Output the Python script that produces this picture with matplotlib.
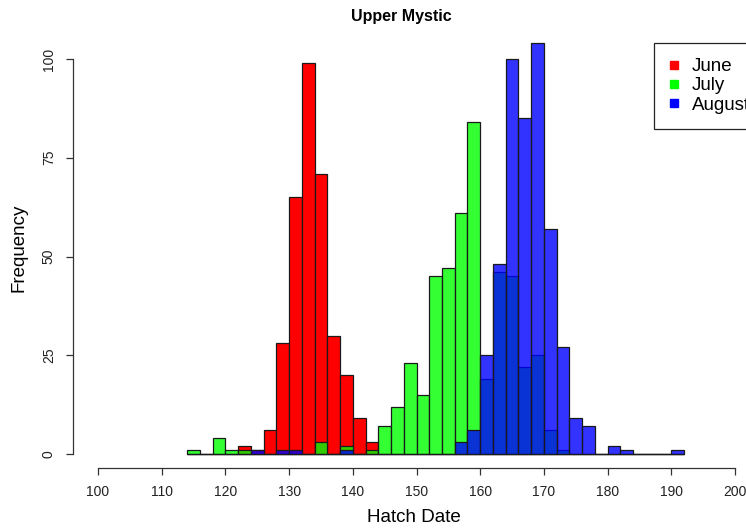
import numpy as np
import matplotlib
matplotlib.use("Agg")
import matplotlib.pyplot as plt
from matplotlib.lines import Line2D

plt.rcParams['font.family'] = ['Liberation Sans', 'DejaVu Sans']

# left edges of the 2-day bins
bins = list(range(114, 192, 2))

june = [0, 0, 0, 0, 2, 1, 6, 28, 65, 99, 71, 30, 20, 9, 3,
        0, 0, 0, 0, 0, 0, 0, 0, 0, 0, 0, 0, 0, 0, 0,
        0, 0, 0, 0, 0, 0, 0, 0, 0]
july = [1, 0, 4, 1, 1, 0, 0, 0, 0, 0, 3, 0, 2, 0, 1,
        7, 12, 23, 15, 45, 47, 61, 84, 19, 46, 45, 22, 25, 6, 1,
        0, 0, 0, 0, 0, 0, 0, 0, 0]
august = [0, 0, 0, 0, 0, 1, 0, 1, 1, 0, 0, 0, 1, 0, 0,
          0, 0, 0, 0, 0, 0, 3, 6, 25, 48, 100, 85, 104, 57, 27,
          9, 7, 0, 2, 1, 0, 0, 0, 1]

labels = ['June', 'July', 'August']
colors = ['#ff0000', (0, 1, 0, 0.8), (0, 0, 1, 0.8)]
legend_colors = ['#ff0000', '#00ff00', '#0000ff']

W, H = 746, 532
fig = plt.figure(figsize=(W / 100, H / 100), dpi=100)

# axes placed in pixel terms: 100->98px, 6.37 px/unit ; y 0->454px, 3.95 px/unit
left_px = 98 - 4 * 6.37
width_px = 108 * 6.37
bottom_px = 468
ytop = 108
top_px = 454 - ytop * 3.95
ax = fig.add_axes([left_px / W, 1 - bottom_px / H, width_px / W, (bottom_px - top_px) / H])

for vals, col in zip([june, july, august], colors):
    ax.bar(bins, vals, width=2, align='edge', color=col,
           edgecolor='#1a1a1a', linewidth=0.9)

ax.set_xlim(96, 204)
ax.set_ylim(-(bottom_px - 454) / 3.95, ytop)

for s in ['top', 'right']:
    ax.spines[s].set_visible(False)
ax.spines['bottom'].set_bounds(100, 200)
ax.spines['left'].set_bounds(0, 100)
for s in ['bottom', 'left']:
    ax.spines[s].set_color('#333333')
    ax.spines[s].set_linewidth(0.9)

ax.set_xticks(np.arange(100, 201, 10))
ax.set_yticks([0, 25, 50, 75, 100])
ax.tick_params(axis='x', length=5, width=0.9, color='#333333', pad=7,
               labelsize=10, labelcolor='#222222')
ax.tick_params(axis='y', length=5, width=0.9, color='#333333', pad=7,
               labelsize=10, labelcolor='#222222')
for t in ax.get_yticklabels():
    t.set_rotation(90)
    t.set_va('center')

fig.text(401 / W, 1 - 17 / H, 'Upper Mystic', ha='center', va='center',
         fontsize=11.5, fontweight='bold')
fig.text(414 / W, 1 - 517 / H, 'Hatch Date', ha='center', va='center', fontsize=13.5)
fig.text(19 / W, 1 - 248 / H, 'Frequency', ha='center', va='center',
         rotation=90, fontsize=13.5)

handles = [Line2D([], [], marker='s', linestyle='none', markersize=6,
                  color=c) for c in legend_colors]
leg = fig.legend(handles, labels, loc='upper left',
                 bbox_to_anchor=(654 / W, 1 - 43 / H), fontsize=13.5,
                 frameon=True, fancybox=False, framealpha=1,
                 edgecolor='#222222', borderpad=0.8, labelspacing=0.12,
                 handlelength=0.5, handletextpad=0.7, borderaxespad=0)
leg.get_frame().set_linewidth(0.9)

fig.savefig('out.png', dpi=100)
